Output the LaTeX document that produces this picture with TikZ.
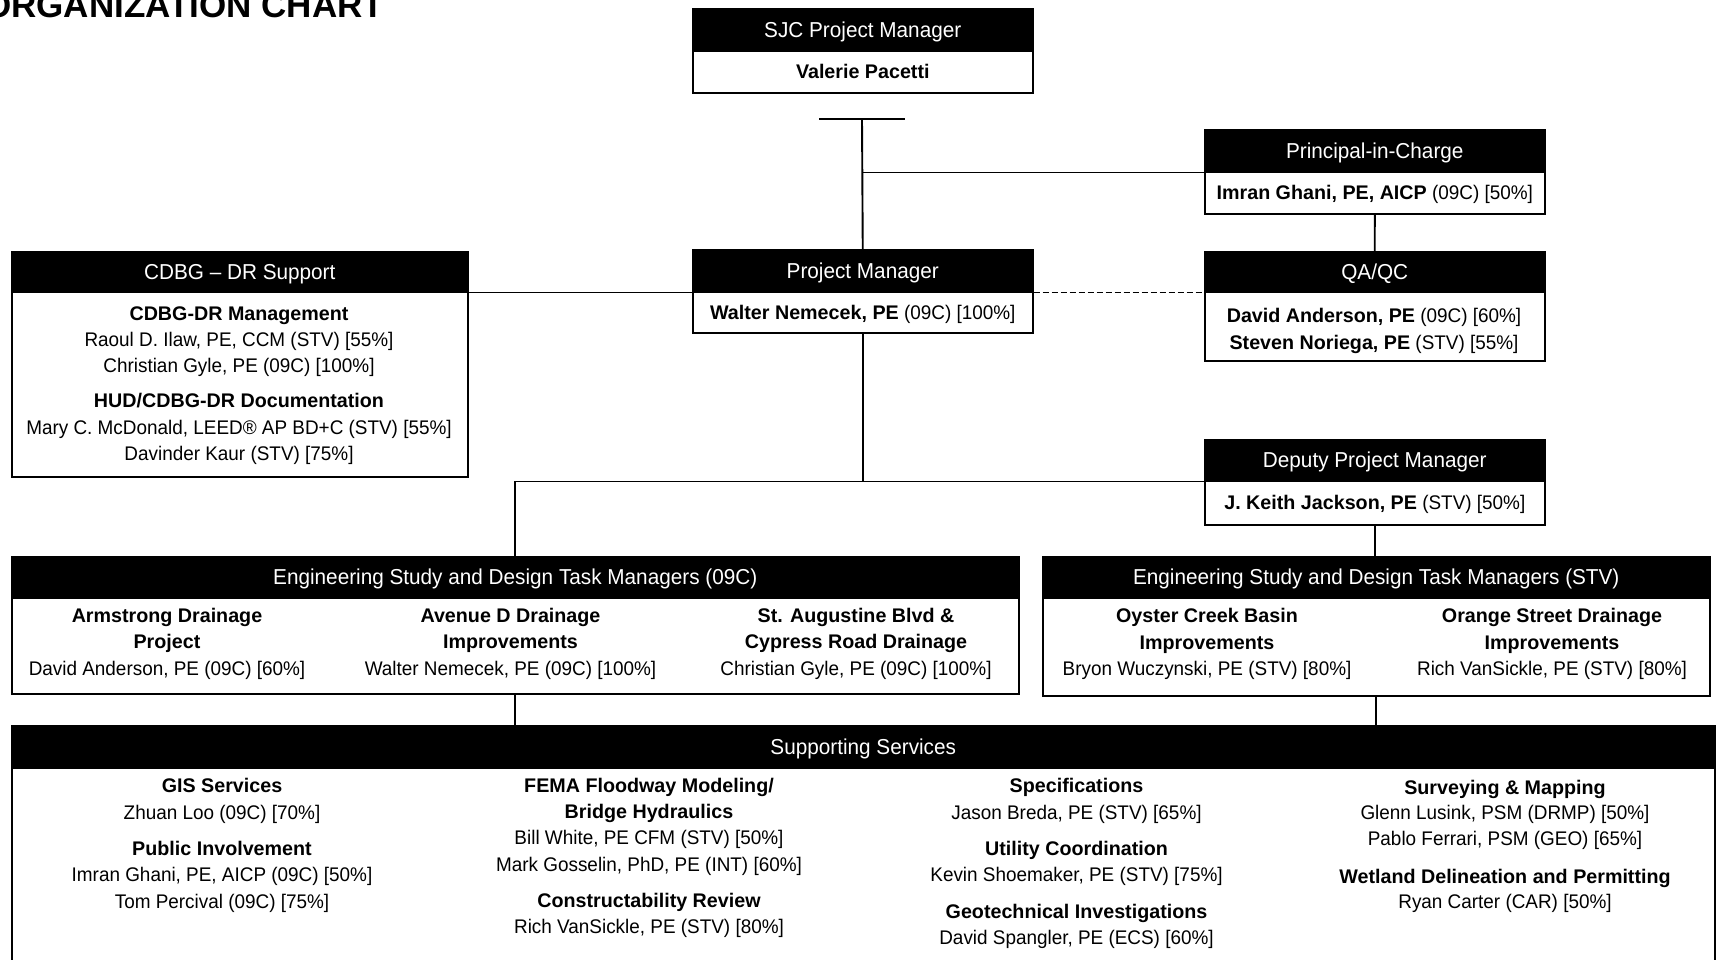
\documentclass[tikz,border=0pt]{standalone}
\usepackage{fontspec}
\setmainfont{Liberation Sans}[UprightFeatures={FakeStretch=0.96}]
\begin{document}
\begin{tikzpicture}[x=1pt,y=-1pt,
  every node/.style={font=\fontsize{19.7}{26}\selectfont},
  hdr/.style 2 args={draw=black, fill=black, text=white, line width=1.5pt, inner sep=0pt,
    anchor=north west, minimum width=#1, minimum height=#2, text height=14.5pt, text depth=0pt,
    font=\fontsize{21.6}{26}\selectfont},
  bdy/.style 2 args={draw=black, fill=white, line width=1.6pt, inner sep=0pt,
    anchor=north west, minimum width=#1, minimum height=#2, text height=14pt, text depth=0pt},
  ln/.style={anchor=base, inner sep=0pt},
  conn/.style={line width=1.9pt},
  dashconn/.style={line width=1.9pt, dash pattern=on 6pt off 3pt},
]
\useasboundingbox (0,0) rectangle (1716,959);

% title
\node[anchor=base west, inner sep=0pt, font=\bfseries\fontsize{35}{40}\selectfont] (title) at (-16,17) {ORGANIZATION CHART};

% SJC Project Manager
\node[hdr={340pt}{42pt}] (sjh) at (692,8) {SJC Project Manager};
\node[bdy={340pt}{42pt}] (sjb) at (692,50) {\textbf{Valerie Pacetti}};

% Principal-in-Charge
\node[hdr={340pt}{42pt}] (pih) at (1204,129) {Principal-in-Charge};
\node[bdy={340pt}{42pt}] (pib) at (1204,171) {\textbf{Imran Ghani, PE, AICP} (09C) [50\%]};

% Project Manager
\node[hdr={340pt}{42pt}] (pmh) at (692,249) {Project Manager};
\node[bdy={340pt}{41pt}] (pmb) at (692,291) {\textbf{Walter Nemecek, PE} (09C) [100\%]};

% QA/QC
\node[hdr={340pt}{40pt}] (qah) at (1204,251) {QA/QC};
\node[bdy={340pt}{69pt}] (qab) at (1204,291) {};
\node[ln] (qa1) at (1374,322.5) {\textbf{David Anderson, PE} (09C) [60\%]};
\node[ln] (qa2) at (1374,349) {\textbf{Steven Noriega, PE} (STV) [55\%]};

% CDBG - DR Support
\node[hdr={456pt}{40pt}] (cdh) at (11,251) {CDBG -- DR Support};
\node[bdy={456pt}{185pt}] (cdb) at (11,291) {};
\node[ln] (cd1) at (239,320) {\textbf{CDBG-DR Management}};
\node[ln] (cd2) at (239,346) {Raoul D. Ilaw, PE, CCM (STV) [55\%]};
\node[ln] (cd3) at (239,372) {Christian Gyle, PE (09C) [100\%]};
\node[ln] (cd4) at (239,407.5) {\textbf{HUD/CDBG-DR Documentation}};
\node[ln] (cd5) at (239,434) {Mary C. McDonald, LEED® AP BD+C (STV) [55\%]};
\node[ln] (cd6) at (239,460) {Davinder Kaur (STV) [75\%]};

% Deputy Project Manager
\node[hdr={340pt}{41pt}] (dph) at (1204,439) {Deputy Project Manager};
\node[bdy={340pt}{44pt}] (dpb) at (1204,480) {\textbf{J. Keith Jackson, PE} (STV) [50\%]};

% Engineering (09C)
\node[hdr={1007pt}{41pt}] (nh) at (11,556) {Engineering Study and Design Task Managers (09C)};
\node[bdy={1007pt}{96pt}] (nb) at (11,597) {};
\node[ln] (n1a) at (167,622) {\textbf{Armstrong Drainage}};
\node[ln] (n1b) at (167,648.5) {\textbf{Project}};
\node[ln] (n1c) at (167,675) {David Anderson, PE (09C) [60\%]};
\node[ln] (n2a) at (510.5,622) {\textbf{Avenue D Drainage}};
\node[ln] (n2b) at (510.5,648.5) {\textbf{Improvements}};
\node[ln] (n2c) at (510.5,675) {Walter Nemecek, PE (09C) [100\%]};
\node[ln] (n3a) at (856,622) {\textbf{St. Augustine Blvd \&}};
\node[ln] (n3b) at (856,648.5) {\textbf{Cypress Road Drainage}};
\node[ln] (n3c) at (856,675) {Christian Gyle, PE (09C) [100\%]};

% Engineering (STV)
\node[hdr={667pt}{41pt}] (sh) at (1042,556) {Engineering Study and Design Task Managers (STV)};
\node[bdy={667pt}{98pt}] (sb) at (1042,597) {};
\node[ln] (s1a) at (1207,622.5) {\textbf{Oyster Creek Basin}};
\node[ln] (s1b) at (1207,649) {\textbf{Improvements}};
\node[ln] (s1c) at (1207,675.5) {Bryon Wuczynski, PE (STV) [80\%]};
\node[ln] (s2a) at (1552,622.5) {\textbf{Orange Street Drainage}};
\node[ln] (s2b) at (1552,649) {\textbf{Improvements}};
\node[ln] (s2c) at (1552,675.5) {Rich VanSickle, PE (STV) [80\%]};

% Supporting Services
\node[hdr={1703pt}{42pt}] (suph) at (11,725) {Supporting Services};
\node[bdy={1703pt}{250pt}] (supb) at (11,767) {};
\node[ln] (a1) at (222,792.5) {\textbf{GIS Services}};
\node[ln] (a2) at (222,819.5) {Zhuan Loo (09C) [70\%]};
\node[ln] (a3) at (222,855.5) {\textbf{Public Involvement}};
\node[ln] (a4) at (222,881.5) {Imran Ghani, PE, AICP (09C) [50\%]};
\node[ln] (a5) at (222,908.5) {Tom Percival (09C) [75\%]};
\node[ln] (b1) at (649,792.5) {\textbf{FEMA Floodway Modeling/}};
\node[ln] (b2) at (649,818.5) {\textbf{Bridge Hydraulics}};
\node[ln] (b3) at (649,844.5) {Bill White, PE CFM (STV) [50\%]};
\node[ln] (b4) at (649,871) {Mark Gosselin, PhD, PE (INT) [60\%]};
\node[ln] (b5) at (649,907.5) {\textbf{Constructability Review}};
\node[ln] (b6) at (649,933.5) {Rich VanSickle, PE (STV) [80\%]};
\node[ln] (c1) at (1076.5,792.5) {\textbf{Specifications}};
\node[ln] (c2) at (1076.5,819.5) {Jason Breda, PE (STV) [65\%]};
\node[ln] (c3) at (1076.5,855.5) {\textbf{Utility Coordination}};
\node[ln] (c4) at (1076.5,881.5) {Kevin Shoemaker, PE (STV) [75\%]};
\node[ln] (c5) at (1076.5,918) {\textbf{Geotechnical Investigations}};
\node[ln] (c6) at (1076.5,944.5) {David Spangler, PE (ECS) [60\%]};
\node[ln] (d1) at (1505,794) {\textbf{Surveying \& Mapping}};
\node[ln] (d2) at (1505,819.5) {Glenn Lusink, PSM (DRMP) [50\%]};
\node[ln] (d3) at (1505,845.5) {Pablo Ferrari, PSM (GEO) [65\%]};
\node[ln] (d4) at (1505,883) {\textbf{Wetland Delineation and Permitting}};
\node[ln] (d5) at (1505,908.5) {Ryan Carter (CAR) [50\%]};

% connectors
\coordinate (tbl) at (819,119);
\coordinate (tbr) at (905,119);
\coordinate (tbm) at (862,119);
\draw[conn] (tbl) -- (tbr);
\draw[conn] (tbm) -- (pmh.north);
\draw[conn] (tbm |- pih.south west) -- (pih.south west);
\draw[conn] (pib.south) -- (qah.north);
\draw[conn] (cdh.south east) -- (pmh.south west);
\draw[dashconn] (pmh.south east) -- (qah.south west);
\draw[conn] (pmb.south) -- (pmb.south |- dph.south west);
\draw[conn] (nh.north) |- (dph.south west);
\draw[conn] (dpb.south) -- (dpb.south |- sh.north);
\draw[conn] (nb.south) -- (nb.south |- suph.north);
\draw[conn] (sb.south) -- (sb.south |- suph.north);
\end{tikzpicture}
\end{document}
